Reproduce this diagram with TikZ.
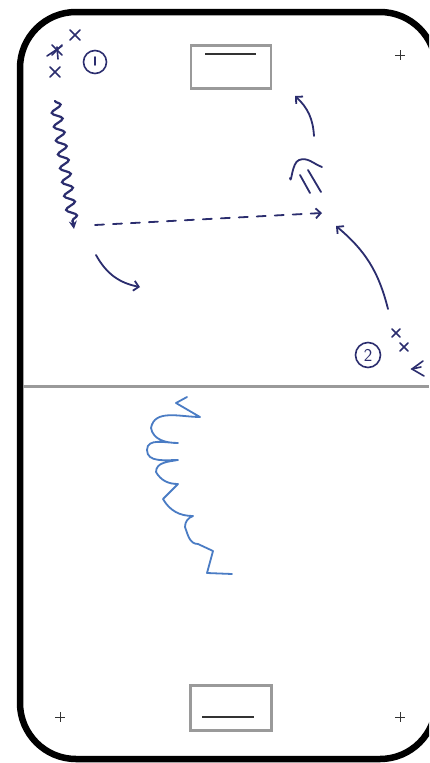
\documentclass[tikz,border=0pt]{standalone}
\usetikzlibrary{arrows.meta,decorations.pathmorphing,calc}
\definecolor{ink}{HTML}{2B2D6E}
\definecolor{pen}{HTML}{4A7CC4}
\definecolor{boxgray}{HTML}{9A9A9A}
\tikzset{
  rink/.style={line width=6.5pt, rounded corners=56pt},
  goalbox/.style={draw=boxgray, line width=2.5pt},
  goalline/.style={line width=1.6pt, black!80},
  faceoff/.style={line width=0.6pt, black!80},
  hand/.style={draw=ink, line width=1.8pt, line cap=round, line join=round},
  tip/.style={-{Straight Barb[length=5pt,width=10pt,line width=1.8pt]}},
  player/.style={draw=ink, circle, line width=1.6pt, minimum size=24pt, inner sep=0pt, text=ink, font=\sffamily\fontsize{18}{18}\selectfont},
  skater/.style={draw=ink, line width=1.6pt, line cap=round}
}
\begin{document}
\begin{tikzpicture}[x=1pt,y=-1pt]
\fill[white] (0,0) rectangle (429,763);
\useasboundingbox (0,0) rectangle (429,763);
\clip (0,0) rectangle (429,763);
% rink
\draw[rink] (20,12) rectangle (436,759);
% centre line
\draw[boxgray, line width=3pt] (23,386) -- (429,386);
% goal boxes
\node[goalbox, minimum width=80pt, minimum height=43pt, inner sep=0pt] (topgoal) at (231,67) {};
\draw[goalline] (205,54) -- (256,54);
\node[goalbox, minimum width=81pt, minimum height=45pt, inner sep=0pt] (botgoal) at (231,708) {};
\draw[goalline] (202,717) -- (254,717);
% faceoff marks
\foreach \p in {(400,55),(60,717),(400,717)}
  \draw[faceoff] \p ++(-5,0) -- ++(10,0) \p ++(0,-5) -- ++(0,10);
% player group 1
\node[player, minimum size=23pt] (p1) at (95,62) {};
\draw[skater] (95,57) -- (95,65);
\foreach \p in {(75,35),(57,50),(55,72)}
  \draw[skater] \p ++(-5,-5) -- ++(10,10) \p ++(5,-5) -- ++(-10,10);
\draw[skater] (47,56) -- (62,46);
\draw[skater] (57,47) -- (58,59);
% skating with puck (wavy)
\coordinate (w1) at (55,101);
\coordinate (w2) at (74,229);
\draw[ink, line width=2.2pt, line cap=round, -{Stealth[length=8pt,width=8pt]},
  decorate, decoration={snake, amplitude=5pt, segment length=14pt, post length=8pt}] (w1) -- (w2);
% pass (dashed)
\coordinate (d1) at (95,225);
\coordinate (d2) at (322,213);
\draw[hand, tip, dash pattern=on 9pt off 9pt] (d1) -- (d2);
% curved arrow lower left
\coordinate (c1) at (96,255);
\coordinate (c2) at (140,287);
\draw[hand, tip] (c1) to[bend right=25] (c2);
% player group 2
\node[player, minimum size=25pt] (p2) at (368,355) {2};
\foreach \p in {(396,333),(404,347)}
  \draw[skater] \p ++(-4,-4) -- ++(8,8) \p ++(4,-4) -- ++(-8,8);
\draw[skater] (423,361) -- (412,369) -- (424,376);
\draw[skater] (412,369) -- (421,367);
% arrow from player 2
\coordinate (r1) at (388,309);
\coordinate (r2) at (336,226);
\draw[hand, tip] (r1) to[bend right=18] (r2);
% double arrow (shot)
\coordinate (s2) at (299,160);
\draw[hand] (290,178) to[out=-80,in=200] (s2) to[out=20,in=160] (322,167);
\draw[hand] (300,175) -- (310,193);
\draw[hand] (308,170) -- (321,192);
% top arrow
\coordinate (t1) at (314,136);
\coordinate (t2) at (295,96);
\draw[hand, tip] (t1) to[bend right=22] (t2);
% blue sketch
\draw[pen, line width=1.8pt, line cap=round, line join=round]
  (187,397) -- (176,403) -- (200,417) to[out=180,in=80] (151,428) to[out=-80,in=180] (178,443)
  to[out=180,in=90] (147,450) to[out=-90,in=180] (178,460) to[out=190,in=90] (156,472)
  to[out=-60,in=180] (178,484) -- (163,499) to[out=-60,in=180] (193,516)
  to[out=200,in=90] (185,527) to[out=-70,in=180] (198,544) -- (213,551) -- (207,573) -- (232,574);
\end{tikzpicture}
\end{document}
